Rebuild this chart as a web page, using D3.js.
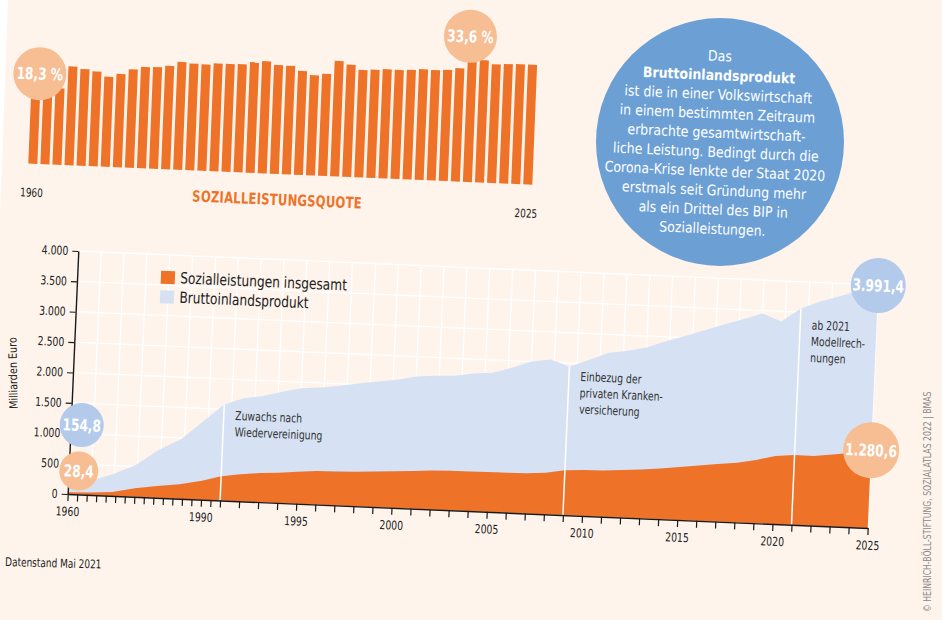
<!DOCTYPE html>
<html><head><meta charset="utf-8">
<script src="https://cdn.jsdelivr.net/npm/d3@7"></script>
<style>
html,body{margin:0;padding:0;background:#fef4ec;}
svg{display:block;}
text{font-family:"Liberation Sans Narrow","DejaVu Sans Condensed",Roboto,sans-serif;}
</style></head><body>
<svg id="chart" width="942" height="620"></svg>
<script>
// Years: five-year steps until 1990, yearly from 1991 (reunified Germany)
const years = [1960,1965,1970,1975,1980,1985,1990,
  1991,1992,1993,1994,1995,1996,1997,1998,1999,2000,
  2001,2002,2003,2004,2005,2006,2007,2008,2009,2010,
  2011,2012,2013,2014,2015,2016,2017,2018,2019,2020,
  2021,2022,2023,2024,2025];
// Sozialleistungsquote, % of GDP
const quote = [18.3,20.0,21.1,27.3,26.7,26.2,24.9,
  25.8,27.2,28.0,28.1,28.6,29.8,29.5,29.4,29.8,29.8,
  29.9,30.6,31.0,30.1,30.0,28.7,27.7,28.2,31.9,31.0,
  29.7,29.9,30.2,30.1,30.3,30.6,30.5,30.7,31.3,33.6,
  33.8,32.8,33.0,33.1,33.1];
// Bruttoinlandsprodukt, Mrd. Euro
const bip = [154.8,235,361,526,788,983,1307,
  1580,1695,1748,1830,1899,1926,1967,2018,2065,2109,
  2172,2198,2212,2263,2288,2385,2500,2546,2445,2564,
  2693,2745,2811,2927,3026,3135,3244,3344,3449,3332,
  3560,3690,3790,3890,3991.4];
// Sozialleistungen insgesamt, Mrd. Euro
const sozial = [28.4,40,62,140,195,240,310,
  398,445,478,495,525,551,556,567,585,601,
  617,640,651,650,655,656,661,684,736,755,
  760,780,801,832,871,910,948,981,1040,1119,
  1150,1145,1185,1225,1280.6];
const yTicks = [0,500,1000,1500,2000,2500,3000,3500,4000];
const xLabels = [1960,1990,1995,2000,2005,2010,2015,2020,2025];
const markers = [
  {year:1991, lines:["Zuwachs nach","Wiedervereinigung"]},
  {year:2009, lines:["Einbezug der","privaten Kranken-","versicherung"]},
  {year:2021, lines:["ab 2021","Modellrech-","nungen"]}
];
const infoLines = ["Das","Bruttoinlandsprodukt","ist die in einer Volkswirtschaft",
  "in einem bestimmten Zeitraum","erbrachte gesamtwirtschaft-",
  "liche Leistung. Bedingt durch die","Corona-Krise lenkte der Staat 2020",
  "erstmals seit Gründung mehr","als ein Drittel des BIP in","Sozialleistungen."];

const C = {bg:"#fef4ec", orange:"#ee7228", orangeLight:"#f7bd93", blueArea:"#d6e2f4",
  blueDot:"#b3caeb", info:"#6ca0d5", ink:"#222"};

const de = d3.formatLocale({decimal:",", thousands:".", grouping:[3], currency:["","€"]});
const fmtInt = de.format(",");
const fmt1 = de.format(",.1f");

// narrow the fallback face to a condensed width
function squeeze(sel, f){
  sel.each(function(){
    const w = this.getComputedTextLength();
    if (w > 0) d3.select(this).attr("textLength", w*f).attr("lengthAdjust","spacingAndGlyphs");
  });
}

const rows = years.map((y,i)=>({year:y, quote:quote[i], bip:bip[i], sozial:sozial[i]}));
const svg = d3.select("#chart");

svg.append("rect").attr("width",942).attr("height",620).attr("fill",C.bg);
svg.append("polygon").attr("points","0,0 8,0 0,215").attr("fill","#fff");

// ---------- Sozialleistungsquote (bars) ----------
const quoteG = svg.append("g").attr("transform","matrix(1,0.042,-0.04,1,28.3,163.5)");
const xb = d3.scaleBand().domain(years).range([0,504]).paddingInner(0.25).paddingOuter(0);
const hb = d3.scaleLinear().domain([0,33.6]).range([0,121.5]);
quoteG.selectAll("rect.bar").data(rows).join("rect").attr("class","bar")
  .attr("x",d=>xb(d.year)).attr("width",xb.bandwidth())
  .attr("y",d=>-hb(d.quote)).attr("height",d=>hb(d.quote))
  .attr("fill",C.orange);
const qEnds = quoteG.selectAll("text.qend").data([years[0], years[years.length-1]]).join("text")
  .attr("class","qend").attr("x",(d,i)=>i?510:-7).attr("y",33)
  .attr("text-anchor",(d,i)=>i?"end":"start").attr("font-size",11.8).attr("fill",C.ink).text(d=>d);
squeeze(qEnds, 0.84);
const qTitle = quoteG.append("text").attr("x",165).attr("y",31).attr("font-size",15.5).attr("font-weight","bold")
  .attr("letter-spacing",0.3).attr("fill",C.orange).text("SOZIALLEISTUNGSQUOTE");
squeeze(qTitle, 0.83);
const qMarks = [{row:rows[0], dx:3.4}, {row:rows[years.indexOf(2020)], dx:-2.8}];
const qg = quoteG.selectAll("g.qlab").data(qMarks).join("g").attr("class","qlab")
  .attr("transform",d=>`translate(${xb(d.row.year)+xb.bandwidth()/2+d.dx},${-hb(d.row.quote)-24})`);
qg.append("circle").attr("r",26.5).attr("fill",C.orangeLight);
squeeze(qg.append("text").attr("text-anchor","middle").attr("dy","0.36em").attr("font-size",16.5)
  .attr("font-weight","bold").attr("fill","#fff").text(d=>fmt1(d.row.quote)+" %"), 0.82);

// ---------- Info bubble ----------
svg.append("circle").attr("cx",720).attr("cy",142).attr("r",124).attr("fill",C.info);
const info = svg.append("g").attr("transform","rotate(2.5,716,147)");
squeeze(info.selectAll("text").data(infoLines).join("text")
  .attr("x",716).attr("y",(d,i)=>61+i*19.2).attr("text-anchor","middle")
  .attr("fill","#fff").attr("font-size",14.5)
  .attr("font-weight",(d,i)=>i===1?"bold":"normal").text(d=>d), 0.96);

// ---------- Sozialleistungen vs. BIP (areas) ----------
const W = 800, H = 243, u = W/42;
const g = svg.append("g").attr("transform","matrix(1,0.0425,-0.0436,1,78.3,251)");
const x = d3.scaleLinear().domain([1960,1990,2025]).range([0,7*u,42*u]);
const y = d3.scaleLinear().domain([0,4000]).range([H,0]);

// grid
g.append("g").selectAll("line").data(yTicks.slice(1)).join("line")
  .attr("x1",0).attr("x2",W).attr("y1",d=>y(d)).attr("y2",d=>y(d))
  .attr("stroke","#fff").attr("stroke-width",1.3);
g.append("g").selectAll("line").data(d3.range(1,36)).join("line")
  .attr("x1",k=>k*W/35).attr("x2",k=>k*W/35).attr("y1",0).attr("y2",H)
  .attr("stroke","#fff").attr("stroke-width",1.3);

g.append("path").datum(rows).attr("fill",C.blueArea)
  .attr("d",d3.area().x(d=>x(d.year)).y0(y(0)).y1(d=>y(d.bip)));
g.append("path").datum(rows).attr("fill",C.orange)
  .attr("d",d3.area().x(d=>x(d.year)).y0(y(0)).y1(d=>y(d.sozial)));

// event markers: white rule up to the GDP edge, note to its right
const noteDrop = {1991:15, 2009:14, 2021:20.5};
const mk = g.selectAll("g.mk").data(markers).join("g").attr("class","mk");
mk.append("line").attr("x1",d=>x(d.year)).attr("x2",d=>x(d.year))
  .attr("y1",y(0)).attr("y2",d=>y(rows[years.indexOf(d.year)].bip))
  .attr("stroke","#fff").attr("stroke-width",1.5);
squeeze(mk.selectAll("text").data(d=>d.lines.map((l,i)=>({l,i,d}))).join("text")
  .attr("x",t=>x(t.d.year)+11.5)
  .attr("y",t=>y(rows[years.indexOf(t.d.year)].bip)+noteDrop[t.d.year]+t.i*16.3)
  .attr("font-size",12.3).attr("fill","#333").text(t=>t.l), 0.84);

// axes
const xTickVals = d3.range(0,17).map(k=>x.invert(k*u/2)).concat(d3.range(1992,2026));
const xAxis = g.append("g").attr("transform",`translate(0,${H})`)
  .call(d3.axisBottom(x).tickValues(xTickVals).tickSize(7).tickSizeOuter(0).tickPadding(6)
    .tickFormat(d=>{const l=xLabels.find(v=>Math.abs(v-d)<0.01); return l?String(l):"";}));
const yAxis = g.append("g")
  .call(d3.axisLeft(y).tickValues(yTicks).tickSize(6).tickSizeOuter(0).tickPadding(4).tickFormat(fmtInt));
[xAxis,yAxis].forEach(a=>{
  a.select(".domain").attr("stroke","#1a1a1a").attr("stroke-width",1.4);
  a.selectAll(".tick line").attr("stroke","#1a1a1a").attr("stroke-width",1.2);
  const t = a.selectAll(".tick text").attr("fill",C.ink).attr("font-size",12.3)
    .style("font-family",'"Liberation Sans Narrow","DejaVu Sans Condensed",Roboto,sans-serif');
  squeeze(t, 0.84);
});

// legend
const legend = [{label:"Sozialleistungen insgesamt", color:C.orange},{label:"Bruttoinlandsprodukt", color:C.blueArea}];
const lg = g.selectAll("g.lg").data(legend).join("g").attr("class","lg")
  .attr("transform",(d,i)=>`translate(83.6,${16.2+i*19.4})`);
lg.append("rect").attr("width",14).attr("height",13).attr("fill",d=>d.color);
squeeze(lg.append("text").attr("x",19.3).attr("y",11.8).attr("font-size",15.5).attr("fill",C.ink).text(d=>d.label), 0.875);

// value bubbles
const first = rows[0], last = rows[rows.length-1];
const bubbles = [
  {cx:x(first.year)+11, cy:y(first.bip)-60, r:22, fill:C.blueDot, v:first.bip},
  {cx:x(first.year)+10, cy:y(first.sozial)-21.7, r:19.5, fill:C.orangeLight, v:first.sozial},
  {cx:x(last.year), cy:y(last.bip), r:27.5, fill:C.blueDot, v:last.bip},
  {cx:x(last.year), cy:y(last.sozial), r:28, fill:C.orangeLight, v:last.sozial}
];
const bg = g.selectAll("g.bub").data(bubbles).join("g").attr("class","bub")
  .attr("transform",d=>`translate(${d.cx},${d.cy})`);
bg.append("circle").attr("r",d=>d.r).attr("fill",d=>d.fill);
squeeze(bg.append("text").attr("text-anchor","middle").attr("dy","0.36em").attr("font-size",16.5)
  .attr("font-weight","bold").attr("fill","#fff").text(d=>fmt1(d.v)), 0.82);

// captions
squeeze(svg.append("text").attr("transform","translate(17,373) rotate(-91)").attr("text-anchor","middle")
  .attr("font-size",11.5).attr("fill",C.ink).text("Milliarden Euro"), 0.93);
squeeze(svg.append("text").attr("transform","translate(5,566) rotate(1.5)").attr("font-size",12)
  .attr("fill",C.ink).text("Datenstand Mai 2021"), 0.83);
squeeze(svg.append("text").attr("transform","translate(931,612) rotate(-90)").attr("font-size",10)
  .attr("fill","#8a8a8a").text("© HEINRICH-BÖLL-STIFTUNG, SOZIALATLAS 2022 | BMAS"), 0.86);
</script>
</body></html>
